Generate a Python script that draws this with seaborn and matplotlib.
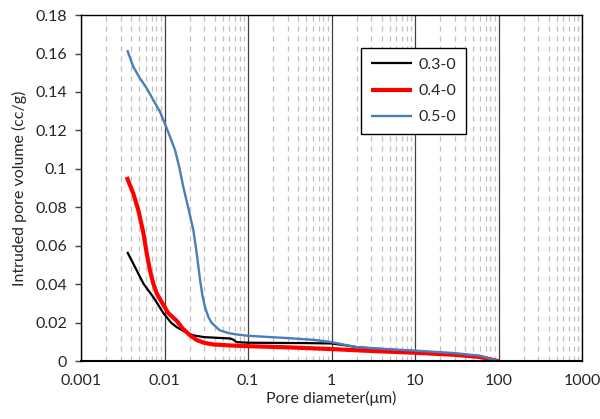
import numpy as np
import pandas as pd
import matplotlib
matplotlib.use("Agg")
import matplotlib.pyplot as plt
from matplotlib.ticker import LogLocator, FixedLocator, NullFormatter
import seaborn as sns

# Cumulative intruded pore volume (cc/g) versus pore diameter (µm)
d_03 = [0.00358, 0.00465, 0.0056, 0.00735, 0.0097, 0.0120, 0.0140, 0.0180,
        0.0222, 0.030, 0.045, 0.061, 0.066, 0.073, 0.10, 0.20, 0.50, 1.0, 1.5,
        2.0, 4.0, 10, 20, 50, 100]
v_03 = [0.0568, 0.0472, 0.0403, 0.0333, 0.0250, 0.0200, 0.0177, 0.0150,
        0.0134, 0.0125, 0.0121, 0.0118, 0.0113, 0.0099, 0.0096, 0.0095, 0.0094,
        0.0092, 0.0082, 0.0073, 0.0063, 0.0052, 0.0043, 0.0027, 0.0]

d_04 = [0.00353, 0.00423, 0.00486, 0.0056, 0.00613, 0.0067, 0.00735, 0.0081,
        0.00927, 0.0111, 0.0140, 0.0165, 0.0203, 0.0243, 0.0300, 0.0385, 0.060,
        0.10, 0.30, 1.0, 3.0, 10, 30, 60, 100]
v_04 = [0.0958, 0.0872, 0.0785, 0.0664, 0.0559, 0.0472, 0.0403, 0.0351,
        0.0307, 0.0250, 0.0210, 0.0170, 0.0134, 0.0110, 0.0095, 0.0087, 0.0082,
        0.0078, 0.0072, 0.0063, 0.0053, 0.0044, 0.0033, 0.0022, 0.0]

d_05 = [0.00358, 0.00423, 0.00509, 0.00613, 0.00735, 0.00883, 0.0100, 0.01166,
        0.0134, 0.0150, 0.0168, 0.0192, 0.0222, 0.0245, 0.0267, 0.0285, 0.0306,
        0.0335, 0.0366, 0.046, 0.060, 0.073, 0.10, 0.30, 0.61, 1.0, 2.0, 5.0,
        10, 30, 60, 100]
v_05 = [0.1618, 0.1531, 0.1471, 0.1419, 0.1358, 0.1297, 0.1240, 0.1167,
        0.1097, 0.1010, 0.0906, 0.080, 0.068, 0.055, 0.042, 0.034, 0.028,
        0.023, 0.020, 0.016, 0.0145, 0.0139, 0.0132, 0.0120, 0.0111, 0.0099,
        0.0073, 0.0062, 0.0055, 0.0042, 0.0028, 0.0]

series_names = ["0.3-0", "0.4-0", "0.5-0"]
series_colors = ["#000000", "#FF0000", "#4A7EBB"]
series_widths = [1.6, 3.0, 1.7]

y_ticks = [0, 0.02, 0.04, 0.06, 0.08, 0.1, 0.12, 0.14, 0.16, 0.18]
y_labels = ["0", "0.02", "0.04", "0.06", "0.08", "0.1", "0.12", "0.14", "0.16", "0.18"]
x_ticks = [0.001, 0.01, 0.1, 1, 10, 100, 1000]
x_labels = ["0.001", "0.01", "0.1", "1", "10", "100", "1000"]

frames = []
for name, d, v in zip(series_names, [d_03, d_04, d_05], [v_03, v_04, v_05]):
    frames.append(pd.DataFrame({"diameter": d, "volume": v, "sample": name}))
df = pd.concat(frames, ignore_index=True)

sns.set_style("white")
plt.rcParams["font.family"] = ["Lato", "DejaVu Sans"]

fig = plt.figure(figsize=(6.0, 4.19), dpi=100)
ax = fig.add_axes([0.135, 0.138, 0.835, 0.826])

ax.set_xscale("log")
ax.set_xlim(0.001, 1000)
ax.set_ylim(0, 0.18)

# Decade lines solid, intermediate values dashed
ax.xaxis.set_major_locator(FixedLocator(x_ticks))
ax.xaxis.set_minor_locator(LogLocator(base=10, subs=np.arange(2, 10), numticks=20))
ax.xaxis.set_minor_formatter(NullFormatter())
ax.grid(False)
ax.grid(True, axis="x", which="minor", color="#BFBFBF", linestyle=(0, (4, 4)), linewidth=0.9)
ax.grid(True, axis="x", which="major", color="#404040", linestyle="-", linewidth=0.9)
ax.set_axisbelow(True)

for name, color, lw in zip(series_names, series_colors, series_widths):
    sub = df[df["sample"] == name]
    sns.lineplot(data=sub, x="diameter", y="volume", color=color, linewidth=lw,
                 sort=False, estimator=None, ax=ax, label=name,
                 solid_joinstyle="round", solid_capstyle="butt")

ax.set_xticks(x_ticks)
ax.set_xticklabels(x_labels)
ax.set_yticks(y_ticks)
ax.set_yticklabels(y_labels)
ax.tick_params(axis="x", which="both", length=0, labelsize=11.5, pad=9)
ax.tick_params(axis="y", which="major", length=4, width=1, color="#404040",
               direction="out", labelsize=11.5, left=True, pad=6)

for s in ax.spines.values():
    s.set_visible(True)
    s.set_color("#000000")
    s.set_linewidth(1.0)
ax.spines["bottom"].set_linewidth(1.5)

ax.set_xlabel("Pore diameter(μm)", fontsize=11.5, labelpad=2)
ax.set_ylabel("Intruded pore volume (cc/g)", fontsize=11.5, labelpad=6)

leg = ax.legend(loc="upper left", bbox_to_anchor=(0.5595, 0.904), frameon=True,
                fancybox=False, edgecolor="#000000", framealpha=1, fontsize=11.5,
                handlelength=2.6, handletextpad=0.4, labelspacing=0.75,
                borderpad=0.6, borderaxespad=0)
leg.get_frame().set_linewidth(1.0)

fig.savefig("out.png", dpi=100)
